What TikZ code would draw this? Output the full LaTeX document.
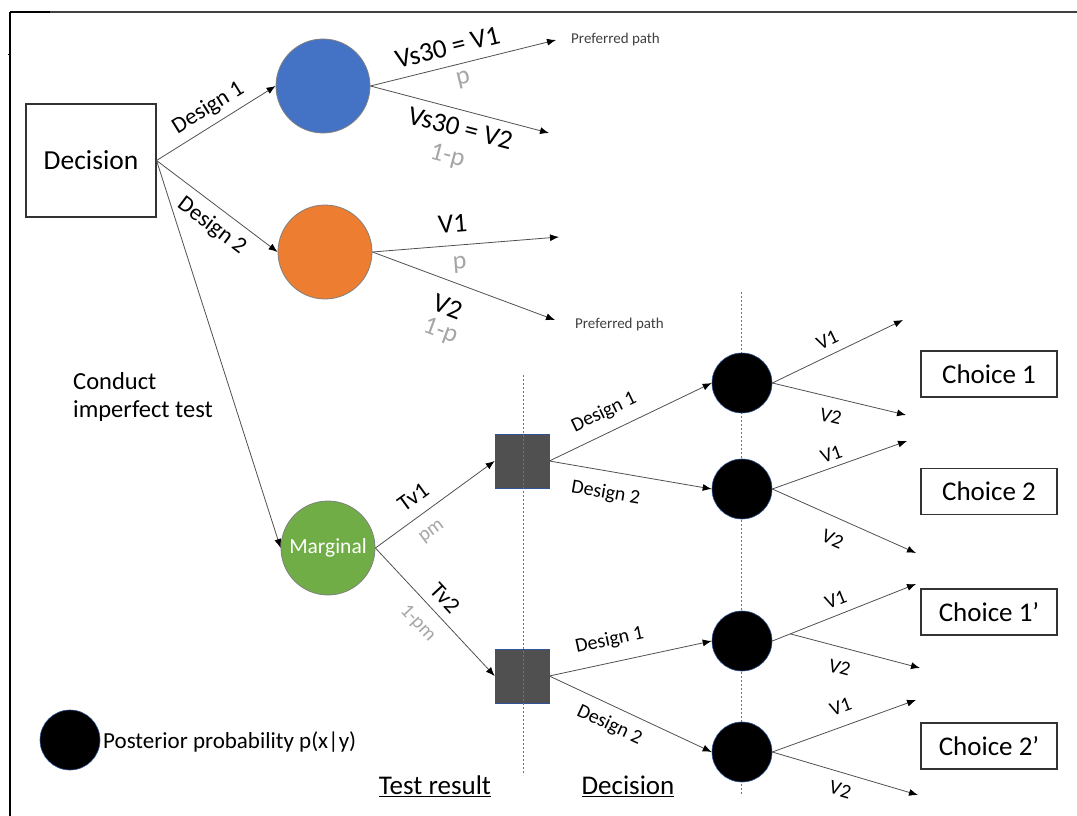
\documentclass[tikz,border=0pt]{standalone}
\usepackage{fontspec}
\setmainfont{Carlito}
\usetikzlibrary{arrows.meta,calc}
\definecolor{blueN}{RGB}{68,114,196}
\definecolor{orangeN}{RGB}{237,125,49}
\definecolor{greenN}{RGB}{112,173,71}
\definecolor{probgray}{RGB}{166,166,166}
\definecolor{linegray}{RGB}{80,80,80}
\definecolor{boxgray}{RGB}{80,80,80}
\definecolor{edgeblue}{RGB}{47,85,151}
\newcommand\fsz[2]{\fontsize{#1}{#2}\selectfont}
\begin{document}
\begin{tikzpicture}[x=1pt,y=-1pt,
  conn/.style={draw=linegray, line width=0.8pt, -{Latex[length=9pt,width=7pt,color=black]}},
  chance/.style={circle, draw=black!50, line width=0.8pt, minimum size=94pt, inner sep=0pt},
  post/.style={circle, fill=black, draw=edgeblue, line width=0.6pt, minimum size=60pt, inner sep=0pt},
  testbox/.style={rectangle, fill=boxgray, draw=edgeblue, line width=0.6pt, minimum size=54pt, inner sep=0pt},
  decbox/.style={rectangle, draw=black!80, line width=1.1pt, minimum width=130pt, minimum height=113pt, font=\fsz{27.5}{32}},
  choicebox/.style={rectangle, draw=black!80, line width=1.1pt, minimum width=136pt, minimum height=46pt, inner sep=0pt, font=\fsz{27}{32}},
  sep/.style={draw=black!55, line width=0.6pt, dash pattern=on 2pt off 2pt},
  lab/.style={sloped, anchor=center, inner sep=0pt},
  biglab/.style={lab, font=\fsz{27}{30}},
  problab/.style={lab, font=\fsz{26}{30}, text=probgray},
  toplab/.style={lab, font=\fsz{23}{27}},
  tvlab/.style={lab, font=\fsz{23}{27}},
  pmlab/.style={lab, font=\fsz{20}{24}, text=probgray},
  smalllab/.style={lab, font=\fsz{20}{24}},
  preflab/.style={anchor=west, inner sep=0pt, font=\fsz{15}{18}, text=black!75},
  headlab/.style={inner sep=0pt, font=\fsz{27}{30}}
]
\useasboundingbox (0,0) rectangle (1077,816);

% outer frame
\draw[black!75, line width=1.6pt] (10,12) -- (1077,12);
\draw[black, line width=1.2pt] (10,12) -- (10,816);
\draw[black, line width=2pt] (10,12.3) -- (50,12.3);
\draw[black, line width=1pt] (7.5,55) -- (11,55);

% decision and chance nodes
\node[decbox] (dec) at (91,160.5) {Decision};
\node[chance, fill=blueN] (blue) at (323,86) {};
\node[chance, fill=orangeN] (orange) at (325,252) {};
\node[chance, fill=greenN, text=white, font=\fsz{21.5}{26}] (marg) at (328,548) {Marginal};

% test result boxes and stage separators
\node[testbox] (sq1) at (522,461) {};
\node[testbox] (sq2) at (522,676) {};
\coordinate (s1top) at (523,375);
\coordinate (s1bot) at (523,775);
\coordinate (s2top) at (741,292);
\coordinate (s2bot) at (741,795);
\draw[sep] (s1top) -- (s1bot);
\draw[sep] (s2top) -- (s2bot);

% posterior nodes
\node[post] (c1) at (742,383) {};
\node[post] (c2) at (742,489) {};
\node[post] (c3) at (742,641) {};
\node[post] (c4) at (742,752) {};

% choices
\node[choicebox] (ch1) at (989,374) {Choice 1};
\node[choicebox] (ch2) at (989,491.5) {Choice 2};
\node[choicebox] (ch3) at (989,612) {Choice 1’};
\node[choicebox] (ch4) at (989,746) {Choice 2’};

% free ends of branches
\coordinate (b1) at (556,40);
\coordinate (b2) at (549,133);
\coordinate (o1) at (559,237);
\coordinate (o2) at (555,320);
\coordinate (c1a) at (903,320);
\coordinate (c1b) at (906,415);
\coordinate (c2a) at (907,441);
\coordinate (c2b) at (916,553);
\coordinate (c3a) at (916,584);
\coordinate (c3b) at (920,668);
\coordinate (c4a) at (916,700);
\coordinate (c4b) at (918,795);
\coordinate (c3s) at ($(c3.east)!0.125!(c3a)$);

% first decision
\draw[conn] (dec.east) -- node[toplab, pos=0.51, yshift=17pt] {Design 1} (blue.west);
\draw[conn] (dec.east) -- node[toplab, pos=0.55, yshift=-19pt] {Design 2} (orange.west);
\draw[conn] (dec.east) -- (marg.west);

% design 1 outcomes
\draw[conn] (blue.east) -- node[biglab, pos=0.44, yshift=19pt] {Vs30 = V1}
                           node[problab, pos=0.48, yshift=-16.5pt] {p} (b1);
\draw[conn] (blue.east) -- node[biglab, pos=0.53, yshift=-18pt] {Vs30 = V2}
                           node[problab, pos=0.5, yshift=-49pt] {1-p} (b2);
% design 2 outcomes
\draw[conn] (orange.east) -- node[biglab, pos=0.44, yshift=22pt] {V1}
                             node[problab, pos=0.46, yshift=-20pt] {p} (o1);
\draw[conn] (orange.east) -- node[biglab, pos=0.46, yshift=-25pt] {V2}
                             node[problab, pos=0.47, yshift=-51pt] {1-p} (o2);
\node[preflab] (pp1) at (571,40) {Preferred path};
\node[preflab] (pp2) at (575,324) {Preferred path};

% imperfect test
\node[anchor=north west, inner sep=0pt, align=left, font=\fsz{24.5}{28}] (ct) at (73,372) {Conduct\\imperfect test};
\draw[conn] (marg.east) -- node[tvlab, pos=0.41, yshift=19pt] {Tv1}
                           node[pmlab, pos=0.375, yshift=-20.5pt] {pm} (sq1.west);
\draw[conn] (marg.east) -- node[tvlab, pos=0.48, yshift=17pt] {Tv2}
                           node[pmlab, pos=0.48, yshift=-20.5pt] {1-pm} (sq2.west);

% decisions after the test
\draw[conn] (sq1.east) -- node[smalllab, pos=0.39, yshift=20pt] {Design 1} (c1.west);
\draw[conn] (sq1.east) -- node[smalllab, pos=0.37, yshift=-22pt] {Design 2} (c2.west);
\draw[conn] (sq2.east) -- node[smalllab, pos=0.4, yshift=22pt] {Design 1} (c3.west);
\draw[conn] (sq2.east) -- node[smalllab, pos=0.42, yshift=-19pt] {Design 2} (c4.west);

% posterior branches
\draw[conn] (c1.east) -- node[smalllab, pos=0.47, yshift=15pt] {V1} (c1a);
\draw[conn] (c1.east) -- node[smalllab, pos=0.47, yshift=-19pt] {V2} (c1b);
\draw[conn] (c2.east) -- node[smalllab, pos=0.47, yshift=13pt] {V1} (c2a);
\draw[conn] (c2.east) -- node[smalllab, pos=0.48, yshift=-21pt] {V2} (c2b);
\draw[conn] (c3.east) -- node[smalllab, pos=0.48, yshift=15pt] {V1} (c3a);
\draw[conn] (c3s) -- node[smalllab, pos=0.42, yshift=-20pt] {V2} (c3b);
\draw[conn] (c4.east) -- node[smalllab, pos=0.52, yshift=19pt] {V1} (c4a);
\draw[conn] (c4.east) -- node[smalllab, pos=0.5, yshift=-17pt] {V2} (c4b);

% legend and stage headings
\node[post] (leg) at (70,740) {};
\node[anchor=west, inner sep=0pt, font=\fsz{23}{27}] (legtext) at (103,742) {Posterior probability p(x|y)};
\node[headlab] (h1) at (435,786) {\underline{Test result}};
\node[headlab] (h2) at (628,786) {\underline{Decision}};
\end{tikzpicture}
\end{document}
